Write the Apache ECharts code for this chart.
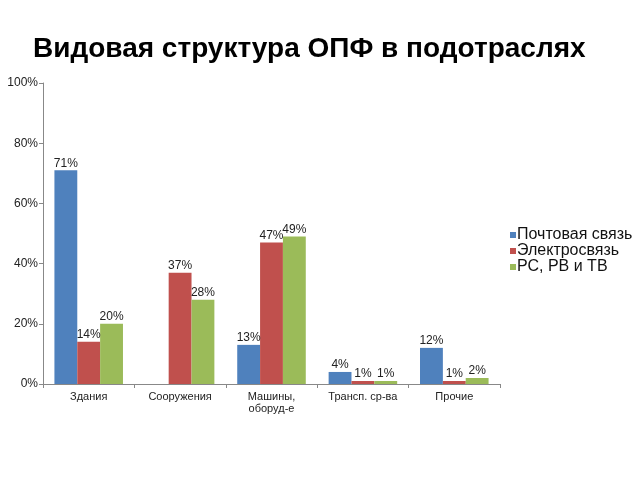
<!DOCTYPE html>
<html><head><meta charset="utf-8">
<script src="https://cdn.jsdelivr.net/npm/echarts@6/dist/echarts.min.js"></script>
<style>html,body{margin:0;padding:0;background:#fff}#c{width:640px;height:480px}</style>
</head><body><div id="c"></div>
<script>
const categories = ['Здания', 'Сооружения', 'Машины,\nоборуд-е', 'Трансп. ср-ва', 'Прочие'];
const seriesNames = ['Почтовая связь', 'Электросвязь', 'РС, РВ и ТВ'];
const postal = [71, null, 13, 4, 12];
const telecom = [14, 37, 47, 1, 1];
const broadcast = [20, 28, 49, 1, 2];
const colors = ['#4F81BD', '#C0504D', '#9BBB59'];

const chart = echarts.init(document.getElementById('c'));
const mk = (name, data, i) => ({
  name, type: 'bar', data, barGap: '0%', barCategoryGap: '25%',
  itemStyle: { color: colors[i] },
  label: { show: true, position: 'top', formatter: '{c}%', color: '#222', fontSize: 12, fontFamily: 'Liberation Sans', distance: 1 }
});
chart.setOption({
  animation: false,
  title: { text: 'Видовая структура ОПФ в подотраслях', left: 28, top: 30,
    textStyle: { fontFamily: 'Liberation Sans', fontWeight: 'bold', fontSize: 28, color: '#000' } },
  legend: { orient: 'vertical', left: 505, top: 222, itemWidth: 6, itemHeight: 6, itemGap: 0,
    icon: 'rect', textStyle: { fontFamily: 'Liberation Sans', fontSize: 16, lineHeight: 15, color: '#111', padding: [0,0,0,-4] },
    data: seriesNames },
  grid: { left: 43, top: 83, right: 140, bottom: 96 },
  xAxis: { type: 'category', data: categories,
    axisLine: { lineStyle: { color: '#888' } },
    axisTick: { show: true, length: 4, lineStyle: { color: '#888' } },
    axisLabel: { fontFamily: 'Liberation Sans', fontSize: 11, color: '#222', margin: 7, interval: 0, lineHeight: 12 } },
  yAxis: { type: 'value', min: 0, max: 100, interval: 20,
    axisLine: { show: true, lineStyle: { color: '#888' } },
    axisTick: { show: true, length: 4, lineStyle: { color: '#888' } },
    splitLine: { show: false },
    axisLabel: { formatter: '{value}%', fontFamily: 'Liberation Sans', fontSize: 12, color: '#222', margin: 5 } },
  series: [mk(seriesNames[0], postal, 0), mk(seriesNames[1], telecom, 1), mk(seriesNames[2], broadcast, 2)]
});
</script></body></html>
